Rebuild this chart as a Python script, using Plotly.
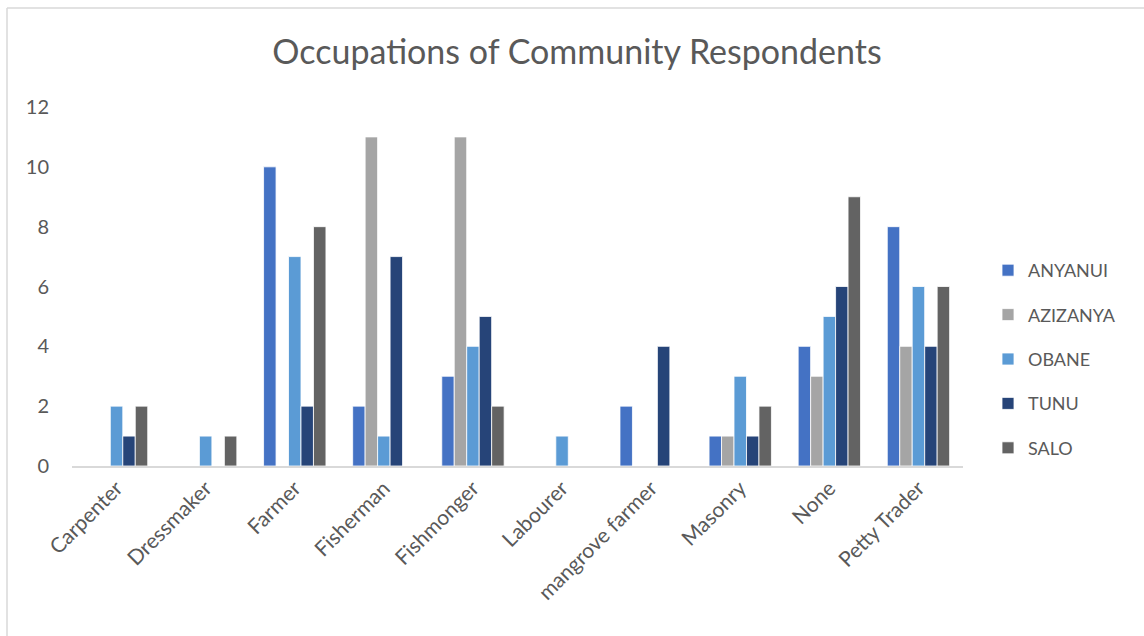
import plotly.graph_objects as go

# Occupation categories (x axis)
categories = ["Carpenter", "Dressmaker", "Farmer", "Fisherman", "Fishmonger",
              "Labourer", "mangrove farmer", "Masonry", "None", "Petty Trader"]

# Respondent counts per community
anyanui = [0, 0, 10, 2, 3, 0, 2, 1, 4, 8]
azizanya = [0, 0, 0, 11, 11, 0, 0, 1, 3, 4]
obane = [2, 1, 7, 1, 4, 1, 0, 3, 5, 6]
tunu = [1, 0, 2, 7, 5, 0, 4, 1, 6, 4]
salo = [2, 1, 8, 0, 2, 0, 0, 2, 9, 6]

series_names = ["ANYANUI", "AZIZANYA", "OBANE", "TUNU", "SALO"]
series_values = [anyanui, azizanya, obane, tunu, salo]
series_colors = ["#4472C4", "#A5A5A5", "#5B9BD5", "#264478", "#636363"]

y_ticks = [0, 2, 4, 6, 8, 10, 12]

FONT = "Lato, Calibri, 'Liberation Sans', sans-serif"
TEXT = "#595959"

fig = go.Figure()
for name, vals, col in zip(series_names, series_values, series_colors):
    fig.add_trace(go.Bar(
        x=categories, y=vals, name=name, legendgroup=name,
        marker=dict(color=col, line=dict(color="white", width=0.8)),
    ))

W, H = 1144, 636
L, R, T, B = 72, 181, 107, 170
pw, ph = W - L - R, H - T - B

def px(x):
    return (x - L) / pw

def py(y):
    return (H - B - y) / ph

fig.update_layout(
    width=W, height=H,
    margin=dict(l=L, r=R, t=T, b=B),
    paper_bgcolor="white", plot_bgcolor="white",
    font=dict(family=FONT, color=TEXT),
    barmode="group", bargap=0.3, bargroupgap=0,
    title=dict(text="Occupations of Community Respondents",
               x=577 / W, xanchor="center", xref="container",
               y=1 - 52 / H, yanchor="middle",
               font=dict(size=34, color=TEXT, family=FONT)),
    xaxis=dict(tickangle=-45, tickfont=dict(size=21, color=TEXT),
               showline=True, linecolor="#D9D9D9", linewidth=1.5,
               ticks="", showgrid=False, zeroline=False),
    yaxis=dict(range=[0, 12], tickvals=y_ticks, tickfont=dict(size=20, color=TEXT),
               showgrid=False, zeroline=False, showline=False, ticks="",
               ticklabelstandoff=22),
    legend=dict(x=px(988), y=py(252), xanchor="left", yanchor="top",
                font=dict(size=18, color=TEXT), traceorder="grouped",
                tracegroupgap=18, itemwidth=30, bgcolor="rgba(0,0,0,0)"),
    showlegend=True,
    shapes=[
        dict(type="line", xref="paper", yref="paper",
             x0=px(7), x1=px(7), y0=py(8), y1=py(H + 5),
             line=dict(color="#D9D9D9", width=1.5)),
        dict(type="line", xref="paper", yref="paper",
             x0=px(7), x1=px(W + 5), y0=py(8), y1=py(8),
             line=dict(color="#D9D9D9", width=1.5)),
    ],
)

fig.write_html("out.html")
